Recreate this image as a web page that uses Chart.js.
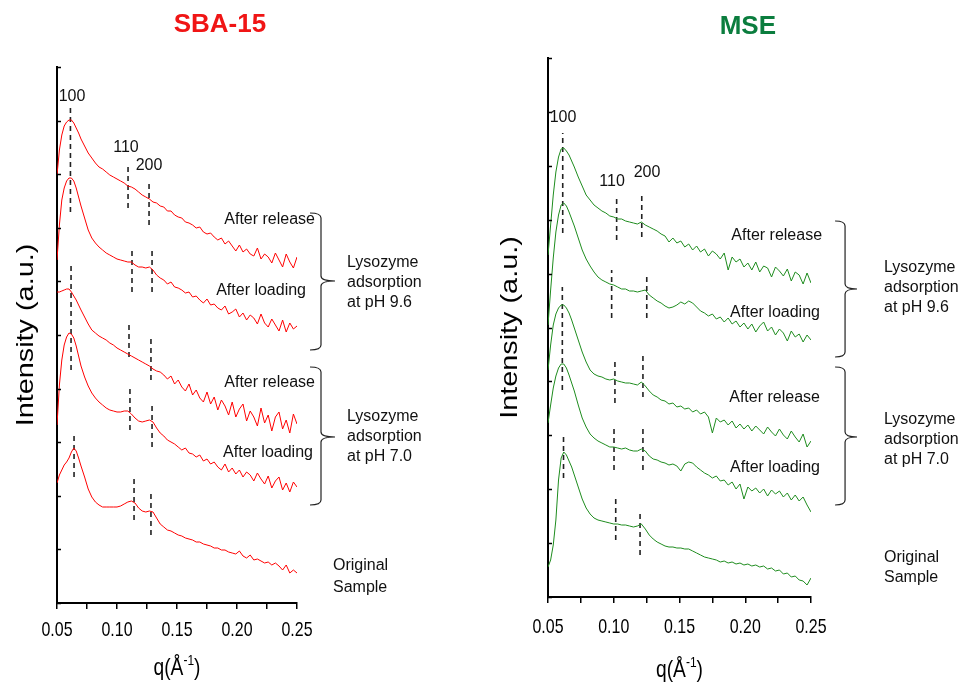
<!DOCTYPE html>
<html><head><meta charset="utf-8">
<script src="https://cdn.jsdelivr.net/npm/chart.js@4/dist/chart.umd.min.js"></script>
<style>
html,body{margin:0;padding:0;background:#fff;}
#wrap{position:relative;width:963px;height:685px;overflow:hidden;}
.box{position:absolute;top:0;height:685px;}
</style></head><body>
<div id="wrap">
<div class="box" style="left:0;width:480px;"><canvas id="c1"></canvas></div>
<div class="box" style="left:480px;width:483px;"><canvas id="c2"></canvas></div>
</div>
<script>
// scattering vector q (1/Å), shared grid
const q = [0.050,0.052,0.054,0.056,0.058,0.060,0.062,0.064,0.066,0.068,0.070,0.073,0.076,0.079,0.082,0.085,0.088,0.091,0.094,0.097,0.100,0.103,0.106,0.109,0.112,0.115,0.118,0.121,0.124,0.127,0.130,0.133,0.136,0.139,0.142,0.145,0.148,0.151,0.154,0.157,0.160,0.163,0.166,0.169,0.172,0.175,0.178,0.181,0.184,0.187,0.190,0.193,0.196,0.199,0.202,0.205,0.208,0.211,0.214,0.217,0.220,0.223,0.226,0.229,0.232,0.235,0.238,0.241,0.244,0.247,0.250];

// SBA-15 (offset intensities, a.u.)
const sbaRelease96 = [428,453,468,477,481,483,483,480,475,470,464,457,450,445,440,436,434,431,428,426,424,422,420,417,416,414,411,408,406,404,401,400,397,396,392,392,388,386,385,381,380,378,375,376,371,369,370,366,363,365,359,362,357,352,358,351,354,349,347,355,344,349,346,340,350,343,336,349,341,335,346];
const sbaLoading96 = [343,378,403,415,422,425,425,422,415,406,397,385,373,365,360,356,353,350,348,346,344,343,342,341,341,338,336,336,335,336,333,328,325,323,319,321,316,315,313,310,311,306,307,303,300,304,298,299,295,293,297,289,291,294,286,290,283,288,285,279,289,280,276,284,278,272,283,271,280,274,277];
const sbaRelease70 = [311,311,312,313,314,314,311,307,303,298,293,286,279,273,270,267,265,263,260,258,255,253,251,249,247,245,243,241,239,237,234,232,231,228,224,227,219,223,216,212,219,208,213,205,201,211,199,206,193,203,197,188,201,186,194,199,182,192,186,177,195,180,188,172,186,191,174,183,170,189,179];
const sbaLoading70 = [178,218,243,258,266,270,269,265,257,247,237,226,217,210,205,201,198,195,193,192,191,191,192,192,189,185,182,181,182,183,181,175,170,167,163,161,159,156,153,155,150,149,146,148,142,144,139,141,136,133,139,131,135,129,133,126,131,128,122,130,124,119,127,115,122,126,113,120,111,121,116];
const sbaOriginal = [120,128,133,138,141,145,151,155,152,145,137,126,114,106,101,98,96,96,96,96,96,97,99,101,102,100,95,92,91,92,91,85,79,76,73,72,70,68,67,65,64,63,61,61,59,58,57,55,55,53,53,51,50,49,52,47,45,48,43,44,42,40,41,38,40,37,33,38,30,33,30];

// MSE (offset intensities, a.u.)
const mseRelease96 = [342,372,402,425,440,448,449,446,442,436,430,420,411,402,397,392,389,386,384,381,380,378,378,376,375,374,373,375,372,370,368,366,363,361,355,359,354,356,350,353,347,351,345,348,341,346,343,338,344,327,340,335,338,330,334,327,335,325,331,329,320,330,326,321,328,316,325,322,313,324,314];
const mseLoading96 = [272,307,339,365,382,392,394,391,385,378,371,359,347,338,331,325,320,317,315,313,312,310,308,308,306,306,305,306,307,302,299,296,294,291,289,290,292,295,293,296,294,290,286,284,281,283,278,280,275,279,273,276,270,274,268,273,265,271,275,266,270,262,268,264,256,266,260,263,255,262,257];
const mseRelease70 = [227,252,272,283,289,292,292,289,284,277,269,257,245,235,227,223,221,220,218,217,218,216,215,214,214,213,212,215,211,206,202,200,197,196,193,194,190,191,188,189,185,187,183,185,180,164,179,175,177,172,176,169,173,168,172,166,171,167,163,170,165,161,168,162,158,166,160,155,163,150,156];
const mseLoading70 = [174,192,209,221,229,233,233,229,222,214,206,192,179,170,163,159,156,154,152,150,150,149,148,149,147,146,146,148,146,141,138,137,135,134,132,133,131,126,133,135,134,130,127,124,122,119,121,116,117,112,115,108,113,98,110,106,109,104,108,101,107,103,106,100,104,97,102,96,100,92,85];
const mseOriginal = [30,37,52,77,117,139,145,142,136,130,122,110,98,89,83,79,77,76,75,74,73,73,72,72,71,70,71,73,68,62,58,55,53,51,50,50,49,49,48,48,46,44,42,40,39,38,37,35,36,34,35,33,34,32,33,31,32,30,31,28,29,26,27,23,24,20,21,17,16,12,19];

// peak markers: [q, intensity from, intensity to]
const sbaPeakMarks = [[0.0612,391,495],[0.1092,395,439],[0.1267,378,421],[0.1125,311,355],[0.1292,311,355],[0.0617,233,340],[0.1100,246,281],[0.1283,223,265],[0.1108,173,216],[0.1292,156,201],[0.0642,126,171],[0.1142,83,128],[0.1283,68,113]];
const msePeakMarks = [[0.0612,364,464],[0.1022,357,402],[0.1213,360,404],[0.0984,279,327],[0.1251,279,322],[0.0609,207,310],[0.1009,194,239],[0.1222,200,245],[0.1002,127,172],[0.1222,127,172],[0.0618,119,164],[0.1015,57,102],[0.1200,42,87]];

// text labels: [text, q, intensity, align]
const sbaLabels = [['100',0.0625,506,'center'],['110',0.1075,455,'center'],['200',0.1267,437,'center'],
 ['After release',0.265,383,'right'],['After loading',0.2575,312,'right'],['After release',0.265,220,'right'],['After loading',0.2633,150,'right'],
 ['Lysozyme',0.2917,340,'left'],['adsorption',0.2917,320,'left'],['at pH 9.6',0.2917,300,'left'],
 ['Lysozyme',0.2917,186,'left'],['adsorption',0.2917,166,'left'],['at pH 7.0',0.2917,146,'left'],
 ['Original',0.28,37,'left'],['Sample',0.28,15,'left']];
const mseLabels = [['100',0.0614,479,'center'],['110',0.0987,415,'center'],['200',0.1253,424,'center'],
 ['After release',0.2584,361,'right'],['After loading',0.2568,284,'right'],['After release',0.2568,199,'right'],['After loading',0.2568,129,'right'],
 ['Lysozyme',0.3055,329,'left'],['adsorption',0.3055,309,'left'],['at pH 9.6',0.3055,289,'left'],
 ['Lysozyme',0.3055,177,'left'],['adsorption',0.3055,157,'left'],['at pH 7.0',0.3055,137,'left'],
 ['Original',0.3055,39,'left'],['Sample',0.3055,19,'left']];
// braces: [q spine, q hook, q tip, top, middle, bottom]
const sbaBraces = [[0.27,0.2608,0.2817,390,322,253],[0.27,0.2608,0.2817,236,166,98]];
const mseBraces = [[0.2759,0.2683,0.285,376,308,240],[0.2759,0.2683,0.285,230,160,92]];

const FONT = "'Liberation Sans', Arial, sans-serif";

const annotPlugin = {
  id: 'annot',
  afterDraw(chart, args, o) {
    const ctx = chart.ctx, a = chart.chartArea, xs = chart.scales.x, ys = chart.scales.y;
    const X = v => xs.getPixelForValue(v), Y = v => ys.getPixelForValue(v);
    ctx.save();
    // inner y ticks
    ctx.strokeStyle = '#000'; ctx.lineWidth = 1.5;
    ys.ticks.forEach(t => { const py = Math.round(Y(t.value)) + 0.5; ctx.beginPath(); ctx.moveTo(a.left, py); ctx.lineTo(a.left + 4, py); ctx.stroke(); });
    // x tick labels (condensed face)
    ctx.fillStyle = '#000'; ctx.font = '21px ' + FONT; ctx.textAlign = 'center'; ctx.textBaseline = 'middle';
    xs.ticks.forEach(t => {
      const r = Math.round(t.value * 1000);
      if (r % 50 !== 0) return;
      ctx.save(); ctx.translate(X(t.value), a.bottom + o.tickDy); ctx.scale(0.76, 1);
      ctx.fillText((r / 1000).toFixed(2), 0, 0); ctx.restore();
    });
    // title
    ctx.fillStyle = o.titleColor; ctx.font = 'bold 26px ' + FONT; ctx.textAlign = 'center'; ctx.textBaseline = 'middle';
    ctx.fillText(o.title, X(o.titlePos[0]), Y(o.titlePos[1]));
    // labels
    ctx.fillStyle = '#111'; ctx.font = '16px ' + FONT;
    o.labels.forEach(l => { ctx.textAlign = l[3]; ctx.fillText(l[0], X(l[1]), Y(l[2])); });
    // braces
    ctx.strokeStyle = '#222'; ctx.lineWidth = 1.2;
    o.braces.forEach(b => {
      const sx = X(b[0]), hx = X(b[1]), tx = X(b[2]), yt = Y(b[3]), ym = Y(b[4]), yb = Y(b[5]), r = 5;
      ctx.beginPath();
      ctx.moveTo(hx, yt); ctx.quadraticCurveTo(sx, yt, sx, yt + r); ctx.lineTo(sx, ym - r); ctx.quadraticCurveTo(sx, ym, tx, ym);
      ctx.moveTo(tx, ym); ctx.quadraticCurveTo(sx, ym, sx, ym + r); ctx.lineTo(sx, yb - r); ctx.quadraticCurveTo(sx, yb, hx, yb);
      ctx.stroke();
    });
    // y axis title
    ctx.save(); ctx.translate(a.left + o.yTitleDx, (a.top + a.bottom) / 2); ctx.rotate(-Math.PI / 2); ctx.scale(1.2, 1);
    ctx.fillStyle = '#000'; ctx.font = '24px ' + FONT; ctx.textAlign = 'center'; ctx.textBaseline = 'middle';
    ctx.fillText('Intensity (a.u.)', 0, 0); ctx.restore();
    // x axis title q(Å-1)
    const cx = (a.left + a.right) / 2, cy = a.bottom + o.xTitleDy;
    ctx.save(); ctx.translate(cx, cy); ctx.scale(0.8, 1);
    ctx.fillStyle = '#000'; ctx.textBaseline = 'middle'; ctx.textAlign = 'left';
    const f1 = '24px ' + FONT, f2 = '15px ' + FONT;
    ctx.font = f1; const w1 = ctx.measureText('q(Å').width, w3 = ctx.measureText(')').width;
    ctx.font = f2; const w2 = ctx.measureText('-1').width;
    const sx = -(w1 + w2 + w3) / 2;
    ctx.font = f1; ctx.fillText('q(Å', sx, 0);
    ctx.font = f2; ctx.fillText('-1', sx + w1, -7);
    ctx.font = f1; ctx.fillText(')', sx + w1 + w2, 0);
    ctx.restore();
    ctx.restore();
  }
};

function makeChart(id, series, color, marks, yMax, pad, xH, extra) {
  const datasets = series.map(s => ({
    data: q.map((x, i) => ({x: x, y: s[i]})), borderColor: color, borderWidth: 1, pointRadius: 0, tension: 0, fill: false
  }));
  marks.forEach(m => datasets.push({
    data: [{x: m[0], y: m[1]}, {x: m[0], y: m[2]}], borderColor: '#222', borderWidth: 1.6, borderDash: [5, 4], pointRadius: 0
  }));
  return new Chart(document.getElementById(id), {
    type: 'line',
    data: {datasets},
    options: {
      responsive: true, maintainAspectRatio: false, animation: false, devicePixelRatio: 1,
      layout: {padding: pad},
      plugins: {legend: {display: false}, tooltip: {enabled: false}, annot: extra},
      scales: {
        x: {type: 'linear', min: 0.05, max: 0.25,
          ticks: {stepSize: 0.025, autoSkip: false, maxRotation: 0, padding: 6, color: '#000',
            font: {family: FONT, size: 20},
            callback: () => ''},
          grid: {drawOnChartArea: false, drawTicks: true, tickLength: 6, color: '#000', lineWidth: 1.5},
          border: {display: true, color: '#000', width: 2},
          afterFit: s => { s.height = xH; }
        },
        y: {min: 0, max: yMax,
          ticks: {display: false, stepSize: yMax / 10},
          grid: {drawOnChartArea: false, drawTicks: false},
          border: {display: true, color: '#000', width: 2},
          afterFit: s => { s.width = 0; }
        }
      }
    },
    plugins: [annotPlugin]
  });
}

makeChart('c1', [sbaRelease96, sbaLoading96, sbaRelease70, sbaLoading70, sbaOriginal], '#ff0000', sbaPeakMarks, 536,
  {left: 57, right: 183, top: 67, bottom: 0}, 82,
  {title: 'SBA-15', titleColor: '#f01515', titlePos: [0.1858, 578], labels: sbaLabels, braces: sbaBraces, yTitleDx: -31, xTitleDy: 65, tickDy: 27});
makeChart('c2', [mseRelease96, mseLoading96, mseRelease70, mseLoading70, mseOriginal], '#1e8c1e', msePeakMarks, 539,
  {left: 68, right: 152, top: 58, bottom: 0}, 88,
  {title: 'MSE', titleColor: '#0b7d3e', titlePos: [0.202, 570], labels: mseLabels, braces: mseBraces, yTitleDx: -38, xTitleDy: 73, tickDy: 30});
</script>
</body></html>
